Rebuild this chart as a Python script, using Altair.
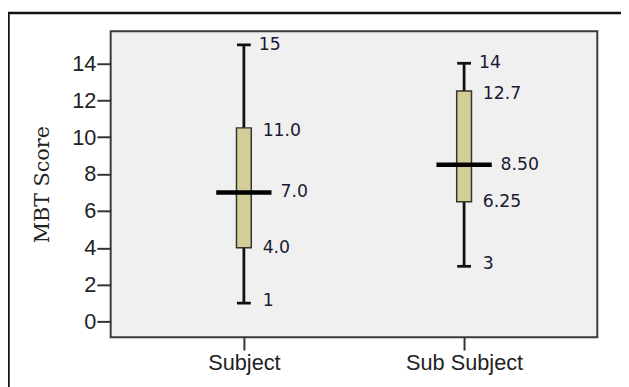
import altair as alt
import pandas as pd

groups = ["Subject", "Sub Subject"]
mins = [1, 3]
q1s = [4, 6.5]
medians = [7, 8.5]
q3s = [10.5, 12.5]
maxs = [15, 14]

min_labels = ["1", "3"]
q1_labels = ["4.0", "6.25"]
median_labels = ["7.0", "8.50"]
q3_labels = ["11.0", "12.7"]
max_labels = ["15", "14"]

y_ticks = [0, 2, 4, 6, 8, 10, 12, 14]

df = pd.DataFrame({
    "group": groups, "min": mins, "q1": q1s, "median": medians,
    "q3": q3s, "max": maxs,
    "min_l": min_labels, "q1_l": q1_labels, "med_l": median_labels,
    "q3_l": q3_labels, "max_l": max_labels,
})

W, H = 493, 310
xs = alt.X("group:N", sort=groups, title=None,
           scale=alt.Scale(type="point", padding=0.605, domain=groups),
           axis=alt.Axis(labelAngle=0, labelFont="Liberation Sans", labelFontSize=22,
                         labelColor="#222222", tickColor="#333333", tickWidth=2,
                         tickSize=13, labelPadding=3, domain=False, grid=False))
ys = alt.Y("min:Q", title="MBT Score",
           scale=alt.Scale(domain=[-0.84, 15.74], nice=False, zero=False),
           axis=alt.Axis(values=y_ticks, labelFont="Liberation Sans", labelFontSize=22,
                         labelColor="#222222", tickColor="#333333", tickWidth=2,
                         tickSize=14, labelPadding=1, domain=False, grid=False,
                         titleFont="DejaVu Serif", titleFontSize=21, titleFontWeight="normal",
                         titleColor="#222222", titlePadding=19))

base = alt.Chart(df)

whisker = base.mark_rule(color="#111111", strokeWidth=2.8).encode(
    x=xs, y=ys, y2="max:Q")
box = base.mark_bar(size=15, color="#D3CE97", stroke="#333333", strokeWidth=1.5, opacity=1).encode(
    x=xs, y="q1:Q", y2="q3:Q")
cap_lo = base.mark_tick(size=14, thickness=2.8, color="#111111", opacity=1).encode(x=xs, y="min:Q")
cap_hi = base.mark_tick(size=14, thickness=2.8, color="#111111", opacity=1).encode(x=xs, y="max:Q")
med = base.mark_tick(size=56, thickness=4.5, color="#000000", opacity=1).encode(x=xs, y="median:Q")

txt = dict(align="left", baseline="middle", font="DejaVu Sans", fontSize=17.5, color="#1a1a33")
t_min = base.mark_text(dx=19, dy=-2, **txt).encode(x=xs, y="min:Q", text="min_l:N")
t_q1 = base.mark_text(dx=19, **txt).encode(x=xs, y="q1:Q", text="q1_l:N")
t_med = base.mark_text(dx=37, **txt).encode(x=xs, y="median:Q", text="med_l:N")
t_q3 = base.mark_text(dx=19, dy=3, **txt).encode(x=xs, y="q3:Q", text="q3_l:N")
t_max = base.mark_text(dx=15, **txt).encode(x=xs, y="max:Q", text="max_l:N")

frame_top = alt.Chart(pd.DataFrame({"a": [0]})).mark_rule(color="#111111", strokeWidth=2.5).encode(
    x=alt.value(-104), x2=alt.value(540), y=alt.value(-18.5))
frame_left = alt.Chart(pd.DataFrame({"a": [0]})).mark_rule(color="#111111", strokeWidth=2.5).encode(
    x=alt.value(-103.5), y=alt.value(-19.5), y2=alt.value(400))

chart = alt.layer(
    whisker, box, cap_lo, cap_hi, med, t_min, t_q1, t_med, t_q3, t_max, frame_top, frame_left
).properties(
    width=W, height=H,
    autosize=alt.AutoSizeParams(type="none"),
    padding={"left": 104, "top": 21, "right": 24, "bottom": 48},
    background="white",
).configure_view(
    fill="#F0F0F0", stroke="#3a3a3a", strokeWidth=2
)

chart.save("out.html", embed_options={"renderer": "svg", "actions": False})
